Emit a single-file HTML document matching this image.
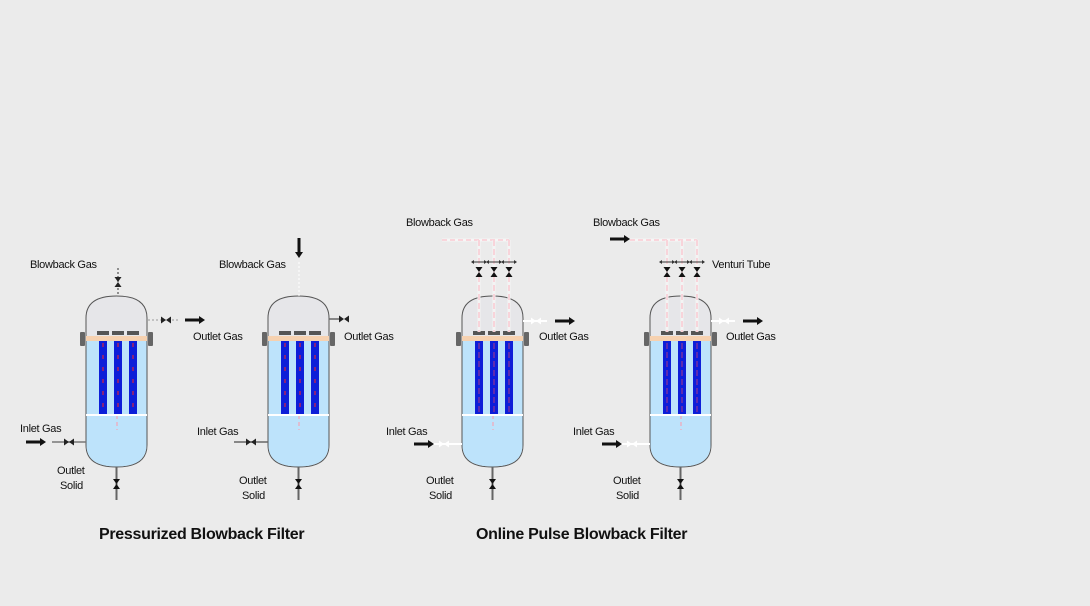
<!DOCTYPE html><html><head><style>body{margin:0;background:#ebebeb}svg{display:block}text{font-family:"Liberation Sans",sans-serif;font-size:11px;fill:#111;letter-spacing:-0.3px}</style></head><body>
<svg id="s" width="1090" height="606" xmlns="http://www.w3.org/2000/svg">
<text x="30" y="268">Blowback Gas</text>
<text x="193" y="340">Outlet Gas</text>
<text x="20" y="432">Inlet Gas</text>
<text x="57" y="474">Outlet</text><text x="60" y="489">Solid</text>
<text x="219" y="268">Blowback Gas</text>
<text x="344" y="340">Outlet Gas</text>
<text x="197" y="435">Inlet Gas</text>
<text x="239" y="484">Outlet</text><text x="242" y="499">Solid</text>
<text x="406" y="226">Blowback Gas</text>
<text x="539" y="340">Outlet Gas</text>
<text x="386" y="435">Inlet Gas</text>
<text x="426" y="484">Outlet</text><text x="429" y="499">Solid</text>
<text x="593" y="226">Blowback Gas</text>
<text x="712" y="268">Venturi Tube</text>
<text x="726" y="340">Outlet Gas</text>
<text x="573" y="435">Inlet Gas</text>
<text x="613" y="484">Outlet</text><text x="616" y="499">Solid</text>
<text x="99" y="539" style="font-size:16px;font-weight:bold">Pressurized Blowback Filter</text>
<text x="476" y="539" style="font-size:16px;font-weight:bold">Online Pulse Blowback Filter</text>
<g id="g"></g>
</svg>
<script>
var h='';
function arrow(x,y,dir){
 if(dir=='r')h+=`<rect x="${x}" y="${y-1.5}" width="14" height="3" fill="#111"/><polygon points="${x+14},${y-4} ${x+20},${y} ${x+14},${y+4}" fill="#111"/>`;
 else h+=`<rect x="${x-1.5}" y="${y}" width="3" height="14" fill="#111"/><polygon points="${x-4},${y+14} ${x},${y+20} ${x+4},${y+14}" fill="#111"/>`;
}
function valveH(x,y,c){h+=`<polygon points="${x-5},${y-3.5} ${x},${y} ${x-5},${y+3.5}" fill="${c}"/><polygon points="${x+5},${y-3.5} ${x},${y} ${x+5},${y+3.5}" fill="${c}"/>`;}
function valveV(x,y,c){h+=`<polygon points="${x-3.5},${y-5} ${x},${y} ${x+3.5},${y-5}" fill="${c}"/><polygon points="${x-3.5},${y+5} ${x},${y} ${x+3.5},${y+5}" fill="${c}"/>`;}
function vessel(L,online){
 var R=L+61,T=296,B=467;
 h+=`<path d="M${L},318 Q${L},${T} ${(L+R)/2},${T} Q${R},${T} ${R},318 L${R},445 Q${R},${B} ${(L+R)/2},${B} Q${L},${B} ${L},445 Z" fill="#e6e6e9" stroke="#555" stroke-width="1"/>`;
 h+=`<path d="M${L+0.5},340 L${R-0.5},340 L${R-0.5},445 Q${R-0.5},${B-0.5} ${(L+R)/2},${B-0.5} Q${L+0.5},${B-0.5} ${L+0.5},445 Z" fill="#bde3fb"/>`;
 h+=`<rect x="${L}" y="336" width="61" height="5" fill="#f6d1b0"/>`;
 h+=`<rect x="${L-6}" y="332" width="5" height="14" rx="1" fill="#666"/><rect x="${R+1}" y="332" width="5" height="14" rx="1" fill="#666"/>`;
 [12,27,42].forEach(function(o){var x=L+o;
  h+=`<rect x="${x-1}" y="331" width="12" height="4" fill="#555"/><rect x="${x+1}" y="341" width="8" height="74" fill="#0d1ed8"/>`;
  h+=`<line x1="${x+5}" y1="343" x2="${x+5}" y2="413" stroke="${online?'#e46':'#f22'}" stroke-width="1" stroke-dasharray="${online?'6,3':'4,8'}" opacity="${online?0.7:1}"/>`;
 });
 h+=`<line x1="${L+31}" y1="415" x2="${L+31}" y2="430" stroke="#f9a" stroke-dasharray="4,3"/>`;
 h+=`<rect x="${L}" y="414" width="61" height="2" fill="#fff"/>`;
 h+=`<line x1="${(L+R)/2}" y1="${B}" x2="${(L+R)/2}" y2="500" stroke="#666" stroke-width="2"/>`;
 valveV((L+R)/2,484,'#111');
}
vessel(86,0);vessel(268,0);vessel(462,1);vessel(650,1);
h+=`<line x1="118" y1="268" x2="118" y2="296" stroke="#333" stroke-dasharray="2,2"/>`;valveV(118,282,'#222');
h+=`<line x1="148" y1="320" x2="180" y2="320" stroke="#999" stroke-dasharray="2,2"/>`;valveH(166,320,'#222');arrow(185,320,'r');
h+=`<line x1="52" y1="442" x2="86" y2="442" stroke="#777" stroke-width="1.5"/>`;valveH(69,442,'#222');arrow(26,442,'r');
arrow(299,238,'d');h+=`<line x1="299" y1="262" x2="299" y2="296" stroke="#fff" stroke-dasharray="2,2"/>`;
h+=`<line x1="329" y1="319" x2="342" y2="319" stroke="#666" stroke-width="1.5"/>`;valveH(344,319,'#222');
h+=`<line x1="234" y1="442" x2="268" y2="442" stroke="#666" stroke-width="1.5"/>`;valveH(251,442,'#222');
function pulse(L){
 var xs=[L+17,L+32,L+47];
 h+=`<line x1="${L-20}" y1="240" x2="${xs[2]}" y2="240" stroke="#f6f6f6" stroke-width="3"/><line x1="${L-20}" y1="240" x2="${xs[2]}" y2="240" stroke="#f9a" stroke-dasharray="5,3" opacity="0.7"/>`;
 xs.forEach(function(x){h+=`<line x1="${x}" y1="240" x2="${x}" y2="332" stroke="#f4f4f4" stroke-width="3"/><line x1="${x}" y1="240" x2="${x}" y2="332" stroke="#f9a" stroke-dasharray="6,3" opacity="0.7"/>`;
  h+=`<line x1="${x-7}" y1="262" x2="${x+7}" y2="262" stroke="#333"/><polygon points="${x-8},262 ${x-5},260 ${x-5},264" fill="#333"/><polygon points="${x+8},262 ${x+5},260 ${x+5},264" fill="#333"/>`;valveV(x,272,'#111');});
 h+=`<line x1="${L+61}" y1="321" x2="${L+85}" y2="321" stroke="#fff" stroke-width="2"/>`;valveH(L+74,321,'#fff');arrow(L+93,321,'r');
 h+=`<line x1="${L-36}" y1="444" x2="${L}" y2="444" stroke="#fff" stroke-width="2"/>`;valveH(L-18,444,'#fff');arrow(L-48,444,'r');
}
pulse(462);pulse(650);arrow(610,239,'r');
document.getElementById('g').innerHTML=h;
</script>
</body></html>
